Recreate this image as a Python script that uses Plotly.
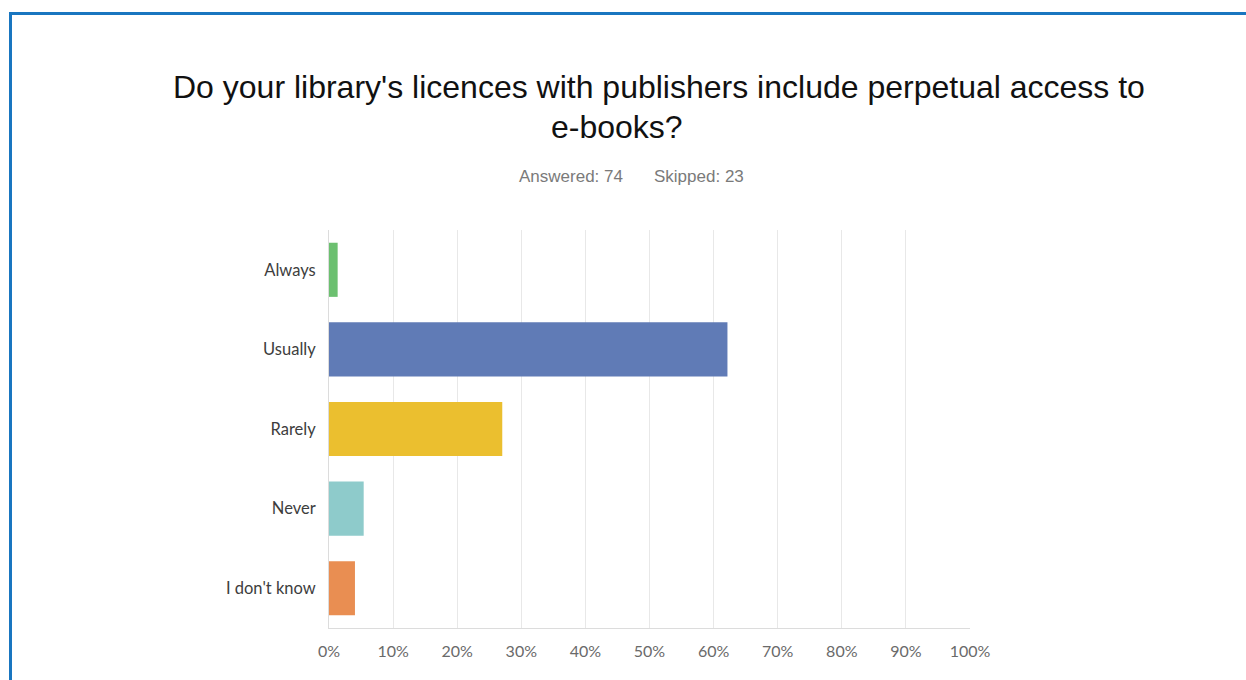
import plotly.graph_objects as go

# Survey responses (share of respondents, %)
answers = ["Always", "Usually", "Rarely", "Never", "I don't know"]
shares = [1.35, 62.16, 27.03, 5.41, 4.05]
bar_colors = ["#6cc070", "#607bb6", "#ebbf2f", "#8ecbcb", "#e98e52"]
tick_vals = [0, 10, 20, 30, 40, 50, 60, 70, 80, 90, 100]
tick_text = [f"{v}%" for v in tick_vals]

title_line1 = "Do your library's licences with publishers include perpetual access to"
title_line2 = "e-books?"
answered_text = "Answered: 74"
skipped_text = "Skipped: 23"

W, H = 1246, 680
L, R, T, B = 329, 276, 230, 52
PW, PH = W - L - R, H - T - B


def px(x):
    return (x - L) / PW


def py(y):
    return (H - B - y) / PH


fig = go.Figure(
    go.Bar(
        x=shares,
        y=answers,
        orientation="h",
        marker=dict(color=bar_colors, line=dict(width=0)),
        hoverinfo="x+y",
    )
)

fig.update_layout(
    width=W,
    height=H,
    margin=dict(l=L, r=R, t=T, b=B),
    paper_bgcolor="white",
    plot_bgcolor="white",
    bargap=0.32,
    showlegend=False,
    xaxis=dict(
        range=[0, 100],
        tickvals=tick_vals,
        ticktext=tick_text,
        showgrid=True,
        gridcolor="#e8e8e8",
        gridwidth=1,
        zeroline=False,
        showline=True,
        linecolor="#dcdcdc",
        linewidth=1,
        ticks="",
        ticklabelstandoff=9,
        tickfont=dict(family="Lato, sans-serif", size=16, color="#6a6a6a"),
        fixedrange=True,
    ),
    yaxis=dict(
        autorange="reversed",
        showgrid=False,
        zeroline=False,
        showline=True,
        linecolor="#dcdcdc",
        linewidth=1,
        ticks="",
        ticklabelstandoff=9,
        tickfont=dict(family="Lato, sans-serif", size=16.5, color="#3d3d3d"),
        fixedrange=True,
    ),
    shapes=[
        # frame edges (left and top)
        dict(type="line", xref="paper", yref="paper",
             x0=px(10.5), x1=px(10.5), y0=py(H + 5), y1=py(13),
             line=dict(color="#1976c0", width=3)),
        dict(type="line", xref="paper", yref="paper",
             x0=px(9), x1=px(W + 5), y0=py(13.5), y1=py(13.5),
             line=dict(color="#1976c0", width=3)),
    ],
    annotations=[
        dict(text=title_line1, xref="paper", yref="paper", x=px(659), y=py(87),
             xanchor="center", yanchor="middle", showarrow=False,
             font=dict(family="Liberation Sans, Arial, sans-serif", size=32, color="#111111")),
        dict(text=title_line2, xref="paper", yref="paper", x=px(617), y=py(127),
             xanchor="center", yanchor="middle", showarrow=False,
             font=dict(family="Liberation Sans, Arial, sans-serif", size=32, color="#111111")),
        dict(text=answered_text, xref="paper", yref="paper", x=px(517), y=py(176),
             xanchor="left", yanchor="middle", showarrow=False,
             font=dict(family="Liberation Sans, Arial, sans-serif", size=17, color="#7a7a7a")),
        dict(text=skipped_text, xref="paper", yref="paper", x=px(652), y=py(176),
             xanchor="left", yanchor="middle", showarrow=False,
             font=dict(family="Liberation Sans, Arial, sans-serif", size=17, color="#7a7a7a")),
    ],
)

fig.write_html("out.html")
